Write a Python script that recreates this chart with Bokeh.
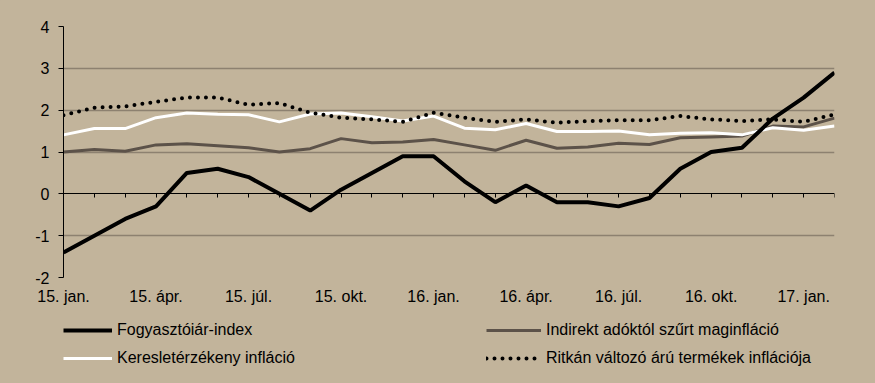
from bokeh.plotting import figure
from bokeh.layouts import column
from bokeh.models import (Range1d, FixedTicker, LinearAxis, Legend, LegendItem,
                          GlobalInlineStyleSheet)
from bokeh.embed import file_html
from bokeh.resources import INLINE

# ---- data ----
months = ["2015-01", "2015-02", "2015-03", "2015-04", "2015-05", "2015-06",
          "2015-07", "2015-08", "2015-09", "2015-10", "2015-11", "2015-12",
          "2016-01", "2016-02", "2016-03", "2016-04", "2016-05", "2016-06",
          "2016-07", "2016-08", "2016-09", "2016-10", "2016-11", "2016-12",
          "2017-01", "2017-02"]
tick_idx = [0, 3, 6, 9, 12, 15, 18, 21, 24]
tick_labels = ["15. jan.", "15. ápr.", "15. júl.", "15. okt.", "16. jan.",
               "16. ápr.", "16. júl.", "16. okt.", "17. jan."]
y_ticks = [-2, -1, 0, 1, 2, 3, 4]
y_labels = ["-2", "-1", "0", "1", "2", "3", "4"]

cpi = [-1.4, -1.0, -0.6, -0.3, 0.5, 0.6, 0.4, 0.0, -0.4, 0.1, 0.5, 0.9,
       0.9, 0.3, -0.2, 0.2, -0.2, -0.2, -0.3, -0.1, 0.6, 1.0, 1.1, 1.8,
       2.3, 2.9]
core = [1.00, 1.06, 1.02, 1.17, 1.20, 1.15, 1.10, 1.00, 1.08, 1.32, 1.22, 1.24,
        1.30, 1.17, 1.04, 1.28, 1.09, 1.12, 1.21, 1.18, 1.34, 1.36, 1.38, 1.62,
        1.60, 1.81]
demand = [1.41, 1.56, 1.56, 1.82, 1.93, 1.90, 1.89, 1.72, 1.91, 1.93, 1.84, 1.74,
          1.86, 1.57, 1.53, 1.68, 1.49, 1.49, 1.50, 1.41, 1.45, 1.46, 1.41, 1.58,
          1.52, 1.62]
sticky = [1.88, 2.06, 2.09, 2.20, 2.30, 2.30, 2.13, 2.17, 1.94, 1.82, 1.78, 1.72,
          1.94, 1.82, 1.72, 1.78, 1.70, 1.74, 1.76, 1.76, 1.86, 1.78, 1.74, 1.78,
          1.72, 1.90]
names = ["Fogyasztóiár-index", "Indirekt adóktól szűrt maginfláció",
         "Keresletérzékeny infláció", "Ritkán változó árú termékek inflációja"]

x = list(range(len(months)))

BG = "#C2B49B"
GRID = "#8D8170"
FONT = "Liberation Sans"
FS = "16px"

styles = {
    "cpi": dict(line_color="black", line_width=4),
    "core": dict(line_color="#5C5249", line_width=3),
    "demand": dict(line_color="white", line_width=3),
    "sticky": dict(line_color="black", line_width=4, line_dash="0 8",
                   line_cap="round"),
}

p = figure(width=875, height=310, output_backend="svg", toolbar_location=None,
           x_range=Range1d(0, len(months) - 1), y_range=Range1d(-2, 4),
           min_border_left=63, min_border_right=41, min_border_top=26,
           min_border_bottom=33)
p.background_fill_color = BG
p.border_fill_color = BG
p.outline_line_color = None
p.stylesheets = [GlobalInlineStyleSheet(css="body{background:%s;}" % BG)]

# y axis
p.yaxis.ticker = FixedTicker(ticks=y_ticks)
p.yaxis.major_label_overrides = {t: s for t, s in zip(y_ticks, y_labels)}
p.yaxis.axis_line_color = "black"
p.yaxis.major_tick_line_color = "black"
p.yaxis.major_tick_out = 5
p.yaxis.major_tick_in = 0
p.yaxis.minor_tick_line_color = None
p.yaxis.major_label_standoff = 9
p.yaxis.major_label_text_font = FONT
p.yaxis.major_label_text_font_size = FS
p.yaxis.major_label_text_color = "black"

p.ygrid.ticker = FixedTicker(ticks=[t for t in y_ticks if t != 0])
p.ygrid.grid_line_color = GRID
p.ygrid.grid_line_width = 1.5
p.xgrid.grid_line_color = None

# bottom label axis
p.xaxis.ticker = FixedTicker(ticks=tick_idx)
p.xaxis.major_label_overrides = {i: t for i, t in zip(tick_idx, tick_labels)}
p.xaxis.axis_line_color = None
p.xaxis.major_tick_line_color = None
p.xaxis.minor_tick_line_color = None
p.xaxis.major_tick_out = 0
p.xaxis.major_label_standoff = 10
p.xaxis.major_label_text_font = FONT
p.xaxis.major_label_text_font_size = FS
p.xaxis.major_label_text_color = "black"

# zero axis with monthly (minor, label-free) ticks
zax = LinearAxis(fixed_location=0, ticker=FixedTicker(ticks=[], minor_ticks=x),
                 axis_line_color="black", major_tick_line_color=None,
                 minor_tick_line_color="black", minor_tick_out=4,
                 minor_tick_in=0, major_label_standoff=0)
p.add_layout(zax, "below")

p.line(x, core, **styles["core"])
p.line(x, demand, **styles["demand"])
p.line(x, sticky, **styles["sticky"])
p.line(x, cpi, **styles["cpi"])

# ---- legend strip (same series, drawn outside its visible range) ----
lg = figure(width=875, height=73, output_backend="svg", toolbar_location=None,
            x_axis_location=None, y_axis_location=None,
            x_range=Range1d(0, len(months) - 1), y_range=Range1d(100, 101),
            min_border=0)
lg.background_fill_color = BG
lg.border_fill_color = BG
lg.outline_line_color = None
lg.xgrid.grid_line_color = None
lg.ygrid.grid_line_color = None

d_cpi = lg.line(x, cpi, **styles["cpi"])
d_core = lg.line(x, core, **styles["core"])
d_dem = lg.line(x, demand, **styles["demand"])
d_sticky = lg.line(x, sticky, **styles["sticky"])

common = dict(padding=0, margin=0, spacing=8, glyph_height=20,
              label_height=20, label_standoff=5, border_line_color=None,
              background_fill_alpha=0, label_text_font=FONT,
              label_text_font_size=FS, label_text_color="black")
leg1 = Legend(items=[LegendItem(label=names[0], renderers=[d_cpi]),
                     LegendItem(label=names[2], renderers=[d_dem])],
              location=(0, 15), glyph_width=49, **common)
leg2 = Legend(items=[LegendItem(label=names[1], renderers=[d_core]),
                     LegendItem(label=names[3], renderers=[d_sticky])],
              location=(423, 15), glyph_width=55, **common)
lg.add_layout(leg1, "center")
lg.add_layout(leg2, "center")

open("out.html", "w").write(file_html(column(p, lg, spacing=0), INLINE))
